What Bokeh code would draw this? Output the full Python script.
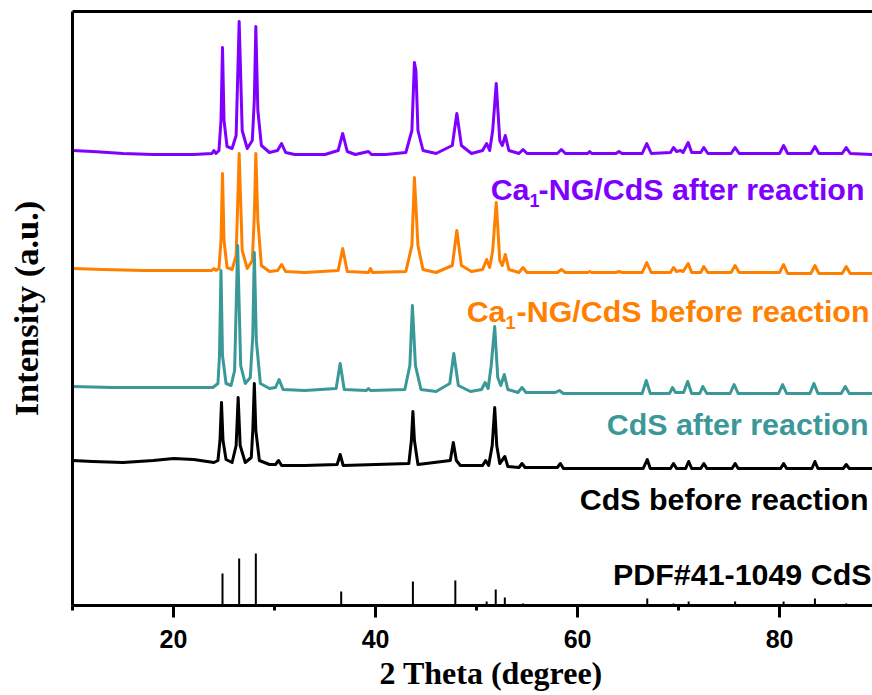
from bokeh.plotting import figure
from bokeh.models import Range1d, LinearAxis, FixedTicker, Label, Title
from bokeh.embed import file_html
from bokeh.resources import INLINE

# ---------------- data ----------------
# 2-theta (degree) and intensity (a.u.) for each pattern
after_ca_x = [10.0, 12, 15, 18, 22, 23.8, 24.0, 24.2, 24.5, 24.7, 24.85, 25.0, 25.3, 25.8, 26.2, 26.5, 26.8,
              27.3, 27.8, 28.0, 28.15, 28.35, 28.7, 29.5, 30.3, 30.7, 31.1, 32, 35, 36.3, 36.75, 37.2, 38,
              39.3, 39.6, 41, 43.0, 43.6, 43.85, 44.0, 44.2, 44.7, 46, 47.6, 48.05, 48.5, 49.5, 50.6, 51.0,
              51.3, 51.6, 51.95, 52.3, 52.55, 52.85, 53.2, 54.2, 54.6, 55.0, 58.0, 58.4, 58.8, 61.0, 61.2,
              61.4, 63.8, 64.1, 64.4, 66.4, 66.85, 67.3, 69.2, 69.5, 69.8, 70.2, 70.45, 70.95, 71.3, 72.2,
              72.5, 72.9, 75.2, 75.6, 76.0, 80.0, 80.4, 80.8, 83.1, 83.5, 83.9, 86.2, 86.6, 87.0, 89.2]
after_ca_y = [455, 454, 452, 451, 451, 452, 455, 452, 455, 485, 558, 485, 459, 457, 470, 584, 475,
              457, 465, 505, 579, 495, 460, 453, 455, 462, 453, 451, 451, 455, 472, 454, 451,
              454, 451, 451, 453, 475, 543, 535, 475, 455, 452, 460, 492, 460, 452, 455, 462,
              455, 475, 522, 465, 460, 470, 455, 452, 456, 452, 452, 456, 452, 452, 454,
              452, 452, 454, 452, 452, 462, 452, 453, 458, 454, 455, 453, 463, 453, 453,
              458, 452, 452, 458, 452, 452, 460, 452, 452, 459, 452, 452, 458, 452, 451]

before_ca_x = [10.0, 13, 17, 22, 23.8, 24.0, 24.2, 24.5, 24.7, 24.85, 25.0, 25.3, 25.8, 26.2, 26.5, 26.8,
               27.3, 27.8, 28.0, 28.15, 28.35, 28.7, 29.5, 30.3, 30.7, 31.1, 33, 36.3, 36.75, 37.2, 39.3,
               39.5, 39.7, 43.0, 43.6, 43.85, 44.2, 44.7, 46, 47.6, 48.05, 48.5, 49.5, 50.6, 51.0, 51.3,
               51.6, 51.95, 52.3, 52.55, 52.85, 53.2, 54.2, 54.6, 55.0, 58.0, 58.4, 58.8, 61.0, 61.2, 61.4,
               63.8, 64.1, 64.4, 66.4, 66.85, 67.3, 69.2, 69.5, 69.8, 70.2, 70.45, 70.95, 71.3, 72.2, 72.5,
               72.9, 75.2, 75.6, 76.0, 80.0, 80.4, 80.8, 83.1, 83.5, 83.9, 86.2, 86.6, 87.0, 89.2]
before_ca_y = [337, 336, 335, 335, 335, 337, 335, 337, 365, 432, 365, 338, 336, 350, 452, 355,
               337, 345, 390, 452, 385, 340, 334, 335, 341, 334, 333, 335, 357, 334, 333,
               337, 333, 334, 360, 428, 360, 336, 333, 340, 375, 340, 334, 336, 346, 338,
               355, 403, 345, 340, 351, 336, 333, 338, 333, 333, 336, 333, 333, 334, 333,
               333, 334, 333, 333, 343, 333, 333, 338, 334, 335, 334, 342, 333, 333, 339,
               333, 333, 340, 333, 333, 341, 332, 332, 340, 332, 332, 339, 332, 332]

after_cds_x = [10.0, 14, 18, 22, 23.9, 24.4, 24.55, 24.7, 24.85, 25.2, 25.7, 26.05, 26.35, 26.65, 27.1,
               27.6, 27.85, 28.0, 28.2, 28.6, 29.5, 30.1, 30.45, 30.85, 33, 36.1, 36.5, 36.9, 39.1, 39.3,
               39.5, 42.9, 43.4, 43.65, 43.95, 44.5, 46, 47.35, 47.75, 48.2, 49.4, 50.5, 50.85, 51.15,
               51.45, 51.8, 52.1, 52.4, 52.75, 53.1, 54.1, 54.5, 54.9, 57.8, 58.2, 58.6, 66.4, 66.8, 67.2,
               69.1, 69.4, 69.7, 70.5, 70.9, 71.3, 72.1, 72.4, 72.8, 75.1, 75.5, 75.9, 79.9, 80.3, 80.7,
               83.0, 83.4, 83.8, 86.1, 86.5, 86.9, 89.2]
after_cds_y = [219, 218, 218, 218, 218, 222, 250, 335, 250, 222, 220, 235, 360, 240, 222,
               228, 270, 353, 265, 222, 217, 218, 226, 216, 215, 217, 242, 216, 215, 217,
               215, 216, 240, 300, 240, 216, 214, 222, 252, 220, 214, 216, 223, 217,
               240, 279, 228, 220, 231, 216, 213, 218, 213, 213, 215, 212, 212, 225, 212,
               212, 218, 213, 213, 224, 212, 212, 219, 212, 212, 221, 212, 212, 221, 212,
               212, 222, 212, 212, 219, 212, 212]

before_cds_x = [10.0, 12, 15, 18, 20, 22, 24.0, 24.4, 24.6, 24.75, 24.9, 25.2, 25.8, 26.2, 26.4, 26.6,
                27.1, 27.7, 27.85, 28.0, 28.15, 28.5, 29.5, 30.1, 30.4, 30.7, 33, 36.2, 36.5, 36.8, 43.3,
                43.55, 43.7, 43.85, 44.2, 47.4, 47.7, 48.0, 48.4, 50.6, 50.9, 51.2, 51.55, 51.8, 52.0,
                52.3, 52.8, 53.1, 54.2, 54.5, 54.8, 58.0, 58.3, 58.6, 66.5, 66.9, 67.2, 69.2, 69.5, 69.8,
                70.7, 71.0, 71.3, 72.2, 72.5, 72.8, 75.3, 75.6, 75.9, 80.1, 80.4, 80.7, 83.2, 83.5, 83.8,
                86.3, 86.6, 86.9, 89.2]
before_cds_y = [145, 144, 143, 145, 147, 146, 143, 145, 165, 203, 165, 146, 143, 160, 208, 160,
                143, 148, 175, 222, 175, 145, 141, 141, 145, 140, 140, 141, 151, 140, 142,
                165, 194, 165, 141, 145, 163, 145, 140, 140, 145, 140, 160, 198, 160,
                142, 149, 139, 138, 142, 138, 138, 142, 137, 137, 146, 137, 137, 142, 137,
                137, 144, 137, 137, 142, 137, 137, 142, 137, 137, 142, 137, 137, 144, 137,
                137, 141, 137, 137]

pdf_pos = [24.85, 26.5, 28.15, 36.6, 43.7, 47.9, 51.0, 51.9, 52.8, 54.6, 66.9, 69.5, 71.0, 72.5,
           75.6, 80.4, 83.5, 86.6]
pdf_int = [32, 47, 52, 14, 24, 25, 4, 16, 8, 2, 7, 2, 4, 1, 4, 4, 7, 2]

x_ticks = [20, 40, 60, 80]
x_minor = [10, 30, 50, 70]

series_colors = ["#8000FF", "#FF8000", "#3A9898", "#000000"]

# ---------------- figure ----------------
X0, X1 = 10, 89.2
PX_LEFT, PX_W = 72, 800


def dx(px):
    """screen pixel -> data x (layout helper for labels)"""
    return X0 + (px - PX_LEFT) * (X1 - X0) / PX_W


def dy(py):
    return 605 - py


p = figure(width=872, height=695, x_range=Range1d(X0, X1), y_range=Range1d(0, 594),
           output_backend="svg", toolbar_location=None,
           min_border_left=72, min_border_right=0, min_border_top=11, min_border_bottom=90,
           y_axis_label="Intensity (a.u.)")
p.outline_line_color = None
p.xgrid.visible = False
p.ygrid.visible = False
p.background_fill_color = "white"
p.border_fill_color = "white"

xa = p.xaxis[0]
xa.ticker = FixedTicker(ticks=x_ticks, minor_ticks=x_minor)
xa.axis_line_width = 3
xa.major_tick_line_width = 3
xa.minor_tick_line_width = 3
xa.major_tick_out = 12
xa.major_tick_in = 0
xa.minor_tick_out = 5
xa.minor_tick_in = 0
xa.major_label_text_font = "Liberation Sans"
xa.major_label_text_font_style = "bold"
xa.major_label_text_font_size = "25px"
xa.major_label_text_color = "black"
xa.major_label_standoff = 12

ya = p.yaxis[0]
ya.ticker = FixedTicker(ticks=[])
ya.axis_line_width = 3
ya.major_tick_line_color = None
ya.minor_tick_line_color = None
ya.axis_label_text_font = "Liberation Serif"
ya.axis_label_text_font_style = "bold"
ya.axis_label_text_font_size = "34.5px"
ya.axis_label_text_color = "black"
ya.axis_label_standoff = 28

top = LinearAxis(ticker=FixedTicker(ticks=[]))
top.axis_line_width = 3
top.major_tick_line_color = None
top.minor_tick_line_color = None
p.add_layout(top, "above")

# x-axis title (offset so that it sits where the reference has it)
p.add_layout(Title(text="2 Theta (degree)", align="left", offset=307, standoff=4,
                   text_font="Liberation Serif", text_font_style="bold", text_font_size="32px",
                   text_color="black"), "below")

# curves
for xs, ys, c in [(after_ca_x, after_ca_y, series_colors[0]),
                  (before_ca_x, before_ca_y, series_colors[1]),
                  (after_cds_x, after_cds_y, series_colors[2]),
                  (before_cds_x, before_cds_y, series_colors[3])]:
    p.line(xs, ys, line_color=c, line_width=3, line_join="round")

# reference sticks
p.segment(x0=pdf_pos, y0=[0] * len(pdf_pos), x1=pdf_pos, y1=pdf_int, line_color="black", line_width=2)

FS = "30.4px"


def lab(text, xpx, ypx, color, align="right", size=FS):
    p.add_layout(Label(x=dx(xpx), y=dy(ypx), text=text, text_align=align, text_baseline="alphabetic",
                       text_font="Liberation Sans", text_font_style="bold", text_font_size=size,
                       text_color=color))


# Ca1-NG/CdS after reaction
lab("Ca", 529, 188, series_colors[0])
lab("1", 529, 200, series_colors[0], align="left", size="18px")
lab("-NG/CdS after reaction", 864, 188, series_colors[0])
# Ca1-NG/CdS before reaction
lab("Ca", 505, 310, series_colors[1])
lab("1", 505, 322, series_colors[1], align="left", size="18px")
lab("-NG/CdS before reaction", 869, 310, series_colors[1])
lab("CdS after reaction", 868, 423, series_colors[2])
lab("CdS before reaction", 868, 498, series_colors[3])
lab("PDF#41-1049 CdS", 871, 573, "black")

open("out.html", "w").write(file_html(p, INLINE))
